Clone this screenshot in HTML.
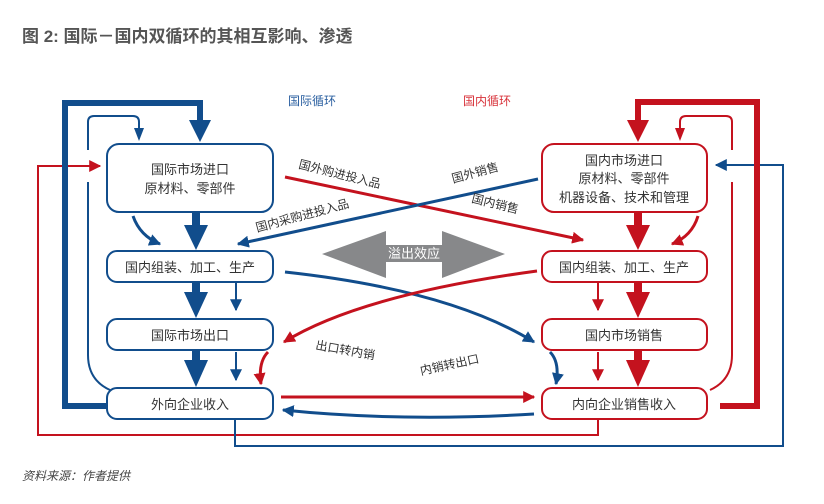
<!DOCTYPE html>
<html><head><meta charset="utf-8"><style>
body{margin:0;background:#fff;width:824px;height:504px;overflow:hidden}
svg{display:block}
text{font-family:"Liberation Sans","Noto Sans CJK SC",sans-serif}
</style></head><body>
<svg width="824" height="504" viewBox="0 0 824 504" xmlns="http://www.w3.org/2000/svg">
<defs>
<marker id="bb" viewBox="0 0 10 10" refX="9" refY="5" markerWidth="4" markerHeight="4" orient="auto" markerUnits="strokeWidth"><path d="M0,0L10,5L0,10z" fill="#114d8c"/></marker>
<marker id="rb" viewBox="0 0 10 10" refX="9" refY="5" markerWidth="4" markerHeight="4" orient="auto" markerUnits="strokeWidth"><path d="M0,0L10,5L0,10z" fill="#c4121e"/></marker>
<marker id="bs" viewBox="0 0 10 10" refX="9" refY="5" markerWidth="6" markerHeight="6" orient="auto" markerUnits="strokeWidth"><path d="M0,0L10,5L0,10z" fill="#114d8c"/></marker>
<marker id="rs" viewBox="0 0 10 10" refX="9" refY="5" markerWidth="6" markerHeight="6" orient="auto" markerUnits="strokeWidth"><path d="M0,0L10,5L0,10z" fill="#c4121e"/></marker>
</defs>
<text x="22" y="42" font-size="17" font-weight="bold" fill="#555">图 2: 国际－国内双循环的其相互影响、渗透</text>
<text x="288" y="105" font-size="12" fill="#2a5fa0">国际循环</text>
<text x="463" y="105" font-size="12" fill="#d8333b">国内循环</text>

<!-- outer thin red and blue loops -->
<path d="M598,419 V435 H38 V166 H100" fill="none" stroke="#c4121e" stroke-width="2" marker-end="url(#rs)"/>
<path d="M235,419 V446 H783 V165 H716" fill="none" stroke="#114d8c" stroke-width="2" marker-end="url(#bs)"/>

<!-- left loops -->
<path d="M107,406 H65 V103 H200 V120" fill="none" stroke="#114d8c" stroke-width="6"/>
<path d="M189,120 L211,120 L200,142z" fill="#114d8c"/>
<path d="M88,150 V122 Q88,116 94,116 H133 Q139,116 139,122 V128" fill="none" stroke="#114d8c" stroke-width="2"/>
<path d="M134,128 L144,128 L139,141z" fill="#114d8c"/>
<path d="M88,182 V355 Q88,380 110,390" fill="none" stroke="#114d8c" stroke-width="2"/>

<!-- right loops -->
<path d="M720,406 H757 V102 H638 V120" fill="none" stroke="#c4121e" stroke-width="6"/>
<path d="M627,120 L649,120 L638,142z" fill="#c4121e"/>
<path d="M732,150 V122 Q732,116 726,116 H686 Q680,116 680,122 V128" fill="none" stroke="#c4121e" stroke-width="2"/>
<path d="M675,128 L685,128 L680,141z" fill="#c4121e"/>
<path d="M732,182 V355 Q732,380 710,390" fill="none" stroke="#c4121e" stroke-width="2"/>

<!-- left vertical arrows -->
<g fill="#114d8c">
<rect x="192" y="212" width="8" height="14"/><path d="M184,225 L208,225 L196,250z"/>
<rect x="192" y="282" width="8" height="12"/><path d="M184,292 L208,292 L196,318z"/>
<rect x="192" y="350" width="8" height="12"/><path d="M184,360 L208,360 L196,387z"/>
</g>
<path d="M236,283 V310" stroke="#114d8c" stroke-width="2" marker-end="url(#bs)"/>
<path d="M236,352 V380" stroke="#114d8c" stroke-width="2" marker-end="url(#bs)"/>
<path d="M133,216 Q140,236 160,244" fill="none" stroke="#114d8c" stroke-width="3" marker-end="url(#bb)"/>

<!-- right vertical arrows -->
<g fill="#c4121e">
<rect x="634" y="212" width="8" height="14"/><path d="M626,225 L650,225 L638,250z"/>
<rect x="634" y="282" width="8" height="12"/><path d="M626,292 L650,292 L638,318z"/>
<rect x="634" y="350" width="8" height="12"/><path d="M626,360 L650,360 L638,387z"/>
</g>
<path d="M598,283 V310" stroke="#c4121e" stroke-width="2" marker-end="url(#rs)"/>
<path d="M598,352 V380" stroke="#c4121e" stroke-width="2" marker-end="url(#rs)"/>
<path d="M698,216 Q692,236 672,244" fill="none" stroke="#c4121e" stroke-width="3" marker-end="url(#rb)"/>
<path d="M268,352 Q258,362 261,384" fill="none" stroke="#c4121e" stroke-width="3" marker-end="url(#rb)"/>
<path d="M550,352 Q560,362 556,384" fill="none" stroke="#114d8c" stroke-width="3" marker-end="url(#bb)"/>

<!-- cross arrows -->
<path d="M285,177 L583,240" stroke="#c4121e" stroke-width="3" marker-end="url(#rb)"/>
<path d="M538,179 L238,244" stroke="#114d8c" stroke-width="3" marker-end="url(#bb)"/>
<path d="M285,272 Q450,290 534,342" fill="none" stroke="#114d8c" stroke-width="3" marker-end="url(#bb)"/>
<path d="M537,271 Q360,295 284,342" fill="none" stroke="#c4121e" stroke-width="3" marker-end="url(#rb)"/>
<path d="M281,397 L534,397" stroke="#c4121e" stroke-width="3" marker-end="url(#rb)"/>
<path d="M534,414 Q400,422 283,410" fill="none" stroke="#114d8c" stroke-width="3" marker-end="url(#bb)"/>

<!-- gray double arrow -->
<path d="M322,254 L386,231 L386,245 L442,245 L442,231 L505,254 L442,278 L442,262 L386,262 L386,278z" fill="#87888a"/>
<text x="414" y="258" font-size="13" fill="#fff" text-anchor="middle">溢出效应</text>

<!-- cross labels -->
<g font-size="12" fill="#333">
<text transform="translate(298,168) rotate(14)">国外购进投入品</text>
<text transform="translate(257,232) rotate(-15)">国内采购进投入品</text>
<text transform="translate(453,183) rotate(-15)">国外销售</text>
<text transform="translate(471,202) rotate(14)">国内销售</text>
<text transform="translate(315,349) rotate(10)">出口转内销</text>
<text transform="translate(421,375) rotate(-12)">内销转出口</text>
</g>

<!-- boxes -->
<g fill="#fff" stroke-width="2">
<rect x="107" y="144" width="166" height="68" rx="12" stroke="#114d8c"/>
<rect x="107" y="251" width="166" height="31" rx="10" stroke="#114d8c"/>
<rect x="107" y="319" width="166" height="31" rx="10" stroke="#114d8c"/>
<rect x="107" y="388" width="166" height="31" rx="10" stroke="#114d8c"/>
<rect x="542" y="144" width="165" height="68" rx="12" stroke="#c4121e"/>
<rect x="542" y="251" width="165" height="31" rx="10" stroke="#c4121e"/>
<rect x="542" y="319" width="165" height="31" rx="10" stroke="#c4121e"/>
<rect x="542" y="388" width="165" height="31" rx="10" stroke="#c4121e"/>
</g>
<g font-size="13" fill="#333" text-anchor="middle">
<text x="190" y="174">国际市场进口</text>
<text x="190" y="193">原材料、零部件</text>
<text x="190" y="272">国内组装、加工、生产</text>
<text x="190" y="340">国际市场出口</text>
<text x="190" y="409">外向企业收入</text>
<text x="624" y="165">国内市场进口</text>
<text x="624" y="183">原材料、零部件</text>
<text x="624" y="202">机器设备、技术和管理</text>
<text x="624" y="272">国内组装、加工、生产</text>
<text x="624" y="340">国内市场销售</text>
<text x="624" y="409">内向企业销售收入</text>
</g>
<text x="22" y="480" font-size="12" font-style="italic" fill="#444">资料来源：作者提供</text>
</svg>
</body></html>
